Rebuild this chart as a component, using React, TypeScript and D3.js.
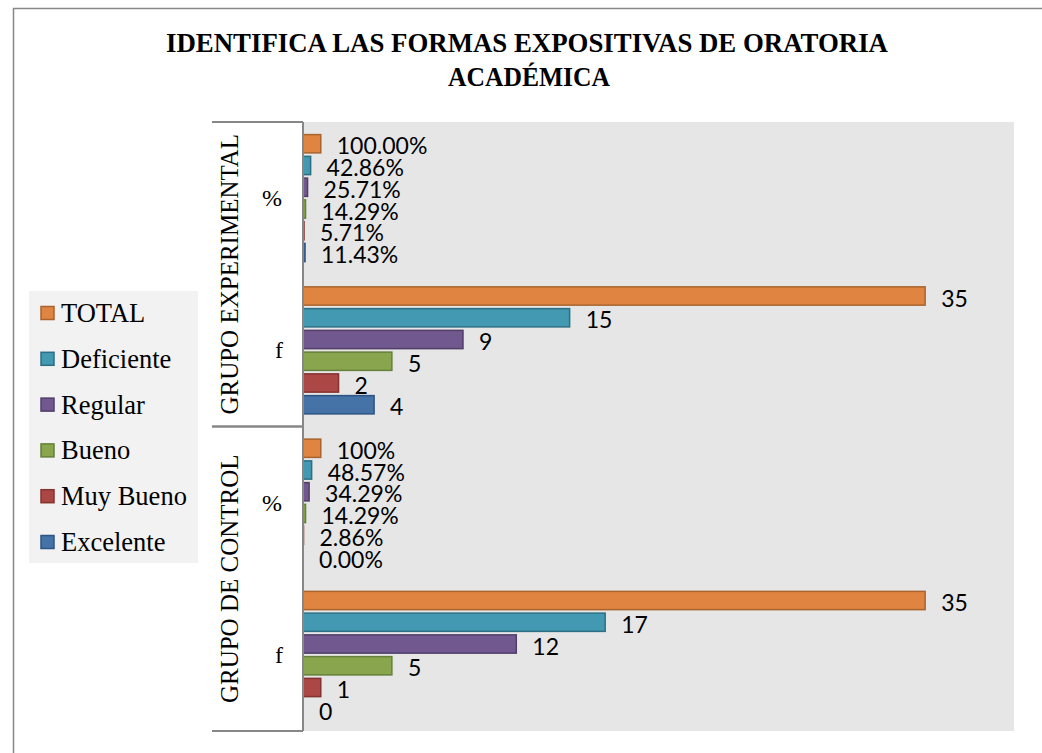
import React from "react";
import * as d3 from "d3";

const seriesNames = ["TOTAL", "Deficiente", "Regular", "Bueno", "Muy Bueno", "Excelente"];
const seriesFill = ["#DF8541", "#4299B1", "#71588F", "#89A54E", "#AB4744", "#4572A7"];
const seriesStroke = ["#A9632E", "#2C6F84", "#513F6A", "#64803A", "#853331", "#2E5483"];

const groupNames = ["GRUPO EXPERIMENTAL", "GRUPO DE CONTROL"];
const measureNames = ["%", "f"];

const expPct = [1.0, 0.4286, 0.2571, 0.1429, 0.0571, 0.1143];
const expPctLabels = ["100.00%", "42.86%", "25.71%", "14.29%", "5.71%", "11.43%"];
const expF = [35, 15, 9, 5, 2, 4];
const ctlPct = [1.0, 0.4857, 0.3429, 0.1429, 0.0286, 0];
const ctlPctLabels = ["100%", "48.57%", "34.29%", "14.29%", "2.86%", "0.00%"];
const ctlF = [35, 17, 12, 5, 1, 0];

const titleLines = ["IDENTIFICA LAS FORMAS EXPOSITIVAS DE ORATORIA", "ACADÉMICA"];

export default function App() {
  const W = 1042, H = 753;
  const plot = { left: 303, right: 1014, top: 122, bottom: 731 };
  const axisLeft = 212;

  const rows = [
    { group: 0, measure: 0, values: expPct, labels: expPctLabels },
    { group: 0, measure: 1, values: expF, labels: expF.map(String) },
    { group: 1, measure: 0, values: ctlPct, labels: ctlPctLabels },
    { group: 1, measure: 1, values: ctlF, labels: ctlF.map(String) },
  ];

  const x = d3.scaleLinear().domain([0, 40]).range([plot.left, plot.right]);
  const y = d3.scaleBand<number>().domain(rows.map((_, i) => i)).range([plot.top, plot.bottom]).padding(0);
  const inner = d3
    .scaleBand<number>()
    .domain(seriesNames.map((_, i) => i))
    .range([0, y.bandwidth()])
    .paddingInner(0.16)
    .paddingOuter(0.58);

  const groupY = (g: number) => {
    const r = rows.map((row, i) => ({ row, i })).filter((d) => d.row.group === g);
    const y0 = y(r[0].i)!;
    const y1 = y(r[r.length - 1].i)! + y.bandwidth();
    return [y0, y1];
  };

  const labelFont = "Lato, 'Open Sans', sans-serif";
  const serif = "'Liberation Serif', 'Times New Roman', serif";

  return (
    <svg width={W} height={H} style={{ position: "absolute", left: 0, top: 0, background: "#fff" }}>
      <rect x={13.5} y={8.5} width={1100} height={900} fill="#fff" stroke="#878787" strokeWidth={1.5} />
      {/* title */}
      <text x={527} y={52} textAnchor="middle" fontFamily={serif} fontWeight="bold" fontSize={26.5}
        textLength={722} lengthAdjust="spacingAndGlyphs">{titleLines[0]}</text>
      <text x={529} y={86} textAnchor="middle" fontFamily={serif} fontWeight="bold" fontSize={26.5}
        textLength={162} lengthAdjust="spacingAndGlyphs">{titleLines[1]}</text>

      {/* plot background */}
      <rect x={plot.left} y={plot.top} width={plot.right - plot.left} height={plot.bottom - plot.top} fill="#E6E6E6" />

      {/* bars */}
      {rows.map((row, ri) =>
        row.values.map((v, si) => {
          const by = y(ri)! + inner(si)!;
          const bh = inner.bandwidth();
          const bw = x(v) - x(0);
          return (
            <g key={`${ri}-${si}`}>
              {v > 0 && (
                <rect x={x(0)} y={by} width={bw} height={bh} fill={seriesFill[si]} stroke={seriesStroke[si]} strokeWidth={1.5} />
              )}
              <text x={x(v) + 16} y={by + bh / 2 + 1.5} dominantBaseline="central" fontFamily={labelFont} fontSize={23} fill="#000">
                {row.labels[si]}
              </text>
            </g>
          );
        })
      )}

      {/* category axis */}
      <line x1={plot.left} x2={plot.left} y1={plot.top} y2={plot.bottom} stroke="#878787" strokeWidth={2} />
      {groupNames.map((g, gi) => {
        const [y0, y1] = groupY(gi);
        return (
          <g key={g}>
            <line x1={axisLeft} x2={plot.left} y1={y0} y2={y0} stroke="#878787" strokeWidth={2} />
            <line x1={axisLeft} x2={plot.left} y1={y1} y2={y1} stroke="#878787" strokeWidth={2} />
            <text transform={`translate(${229},${(y0 + y1) / 2}) rotate(-90)`} textAnchor="middle" dominantBaseline="central"
              fontFamily={serif} fontSize={25}>{g}</text>
          </g>
        );
      })}
      {rows.map((row, ri) => (
        <text key={ri} x={row.measure === 0 ? 272 : 279} y={y(ri)! + y.bandwidth() / 2} textAnchor="middle" dominantBaseline="central"
          fontFamily={serif} fontSize={24}>{measureNames[row.measure]}</text>
      ))}

      {/* legend */}
      <rect x={29} y={291} width={169} height={272} fill="#F2F2F2" />
      {seriesNames.map((s, i) => {
        const cy = 313 + i * 45.8;
        return (
          <g key={s}>
            <rect x={41} y={cy - 6.5} width={13} height={13} fill={seriesFill[i]} stroke={seriesStroke[i]} strokeWidth={1.5} />
            <text x={61} y={cy} dominantBaseline="central" fontFamily={serif} fontSize={26.5}>{s}</text>
          </g>
        );
      })}
    </svg>
  );
}
